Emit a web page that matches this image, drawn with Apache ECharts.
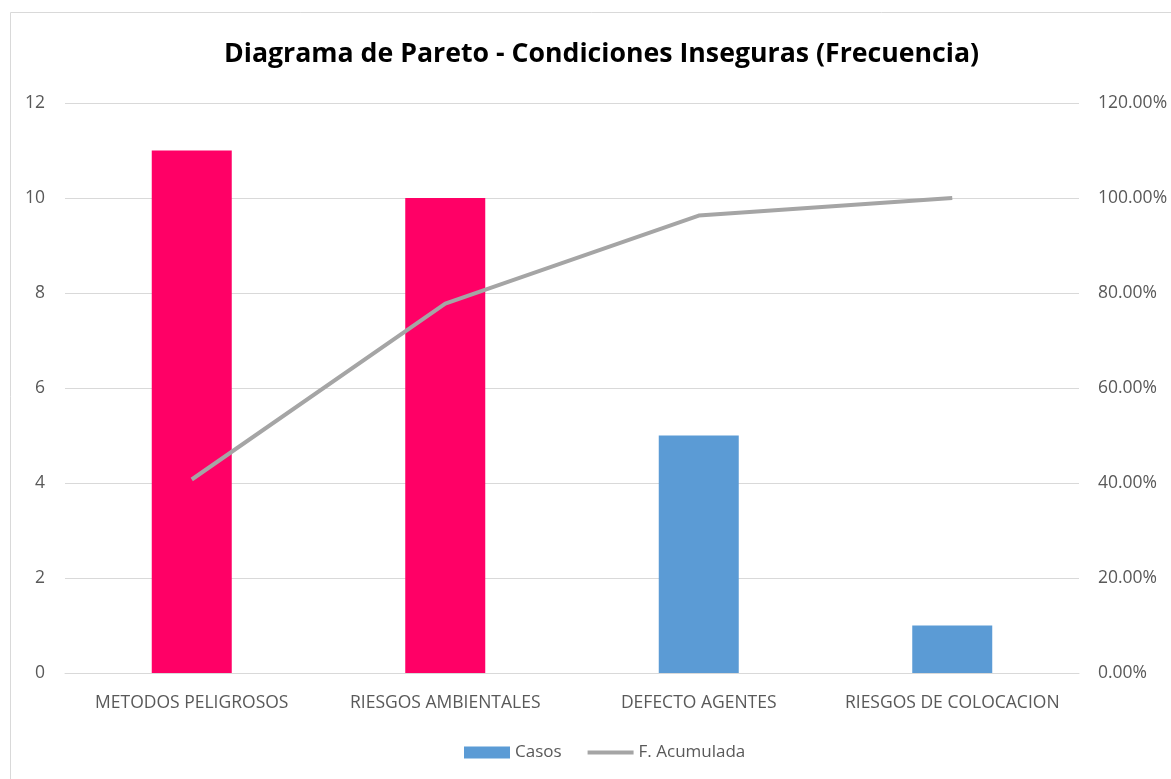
<!DOCTYPE html>
<html>
<head>
<meta charset="utf-8">
<script src="https://cdn.jsdelivr.net/npm/echarts@6/dist/echarts.min.js"></script>
<style>
  html, body { margin: 0; padding: 0; background: #fff; }
  #main { width: 1171px; height: 779px; }
</style>
</head>
<body>
<div id="main"></div>
<script>
// datos del diagrama
var categorias = ['METODOS PELIGROSOS', 'RIESGOS AMBIENTALES', 'DEFECTO AGENTES', 'RIESGOS DE COLOCACION'];
var casos = [11, 10, 5, 1];
var acumulada = [40.74, 77.78, 96.30, 100.00]; // % acumulado
var colorBarras = ['#FF0066', '#FF0066', '#5B9BD5', '#5B9BD5'];

var myChart = echarts.init(document.getElementById('main'));

var barData = [];
for (var i = 0; i < casos.length; i++) {
  barData.push({ value: casos[i], itemStyle: { color: colorBarras[i] } });
}

var fuente = 'Open Sans';
var option = {
  animation: false,
  graphic: [{
    type: 'rect',
    shape: { x: 10.5, y: 12.5, width: 1180, height: 790 },
    style: { fill: null, stroke: '#D9D9D9', lineWidth: 1 }
  }],
  title: {
    text: 'Diagrama de Pareto - Condiciones Inseguras (Frecuencia)',
    left: 219,
    top: 36,
    textStyle: { fontFamily: fuente, fontWeight: 'bold', fontSize: 26.7, color: '#000' }
  },
  legend: {
    bottom: 13,
    left: 459,
    itemGap: 26,
    itemWidth: 46,
    itemHeight: 12,
    textStyle: { fontFamily: fuente, fontSize: 17, color: '#595959' },
    data: [
      { name: 'Casos', icon: 'rect' },
      { name: 'F. Acumulada', icon: 'path://M0,0 L46,0 L46,4 L0,4 Z' }
    ]
  },
  grid: { left: 65, right: 92, top: 103, bottom: 106 },
  xAxis: {
    type: 'category',
    data: categorias,
    axisTick: { show: false },
    axisLine: { lineStyle: { color: '#D9D9D9' } },
    axisLabel: { interval: 0, fontFamily: fuente, fontSize: 17.5, color: '#595959', margin: 21 }
  },
  yAxis: [{
    type: 'value',
    min: 0, max: 12, interval: 2,
    axisLine: { show: false },
    axisTick: { show: false },
    splitLine: { lineStyle: { color: '#D9D9D9' } },
    axisLabel: { fontFamily: fuente, fontSize: 17.5, color: '#595959', margin: 20 }
  }, {
    type: 'value',
    min: 0, max: 120, interval: 20,
    axisLine: { show: false },
    axisTick: { show: false },
    splitLine: { show: false },
    axisLabel: {
      fontFamily: fuente, fontSize: 17.5, color: '#595959', margin: 19,
      formatter: function (v) { return v.toFixed(2) + '%'; }
    }
  }],
  series: [{
    name: 'Casos',
    type: 'bar',
    barWidth: 80,
    itemStyle: { color: '#5B9BD5' },
    data: barData
  }, {
    name: 'F. Acumulada',
    type: 'line',
    yAxisIndex: 1,
    symbol: 'none',
    lineStyle: { color: '#A5A5A5', width: 4 },
    itemStyle: { color: '#A5A5A5' },
    data: acumulada
  }]
};
myChart.setOption(option);
</script>
</body>
</html>
